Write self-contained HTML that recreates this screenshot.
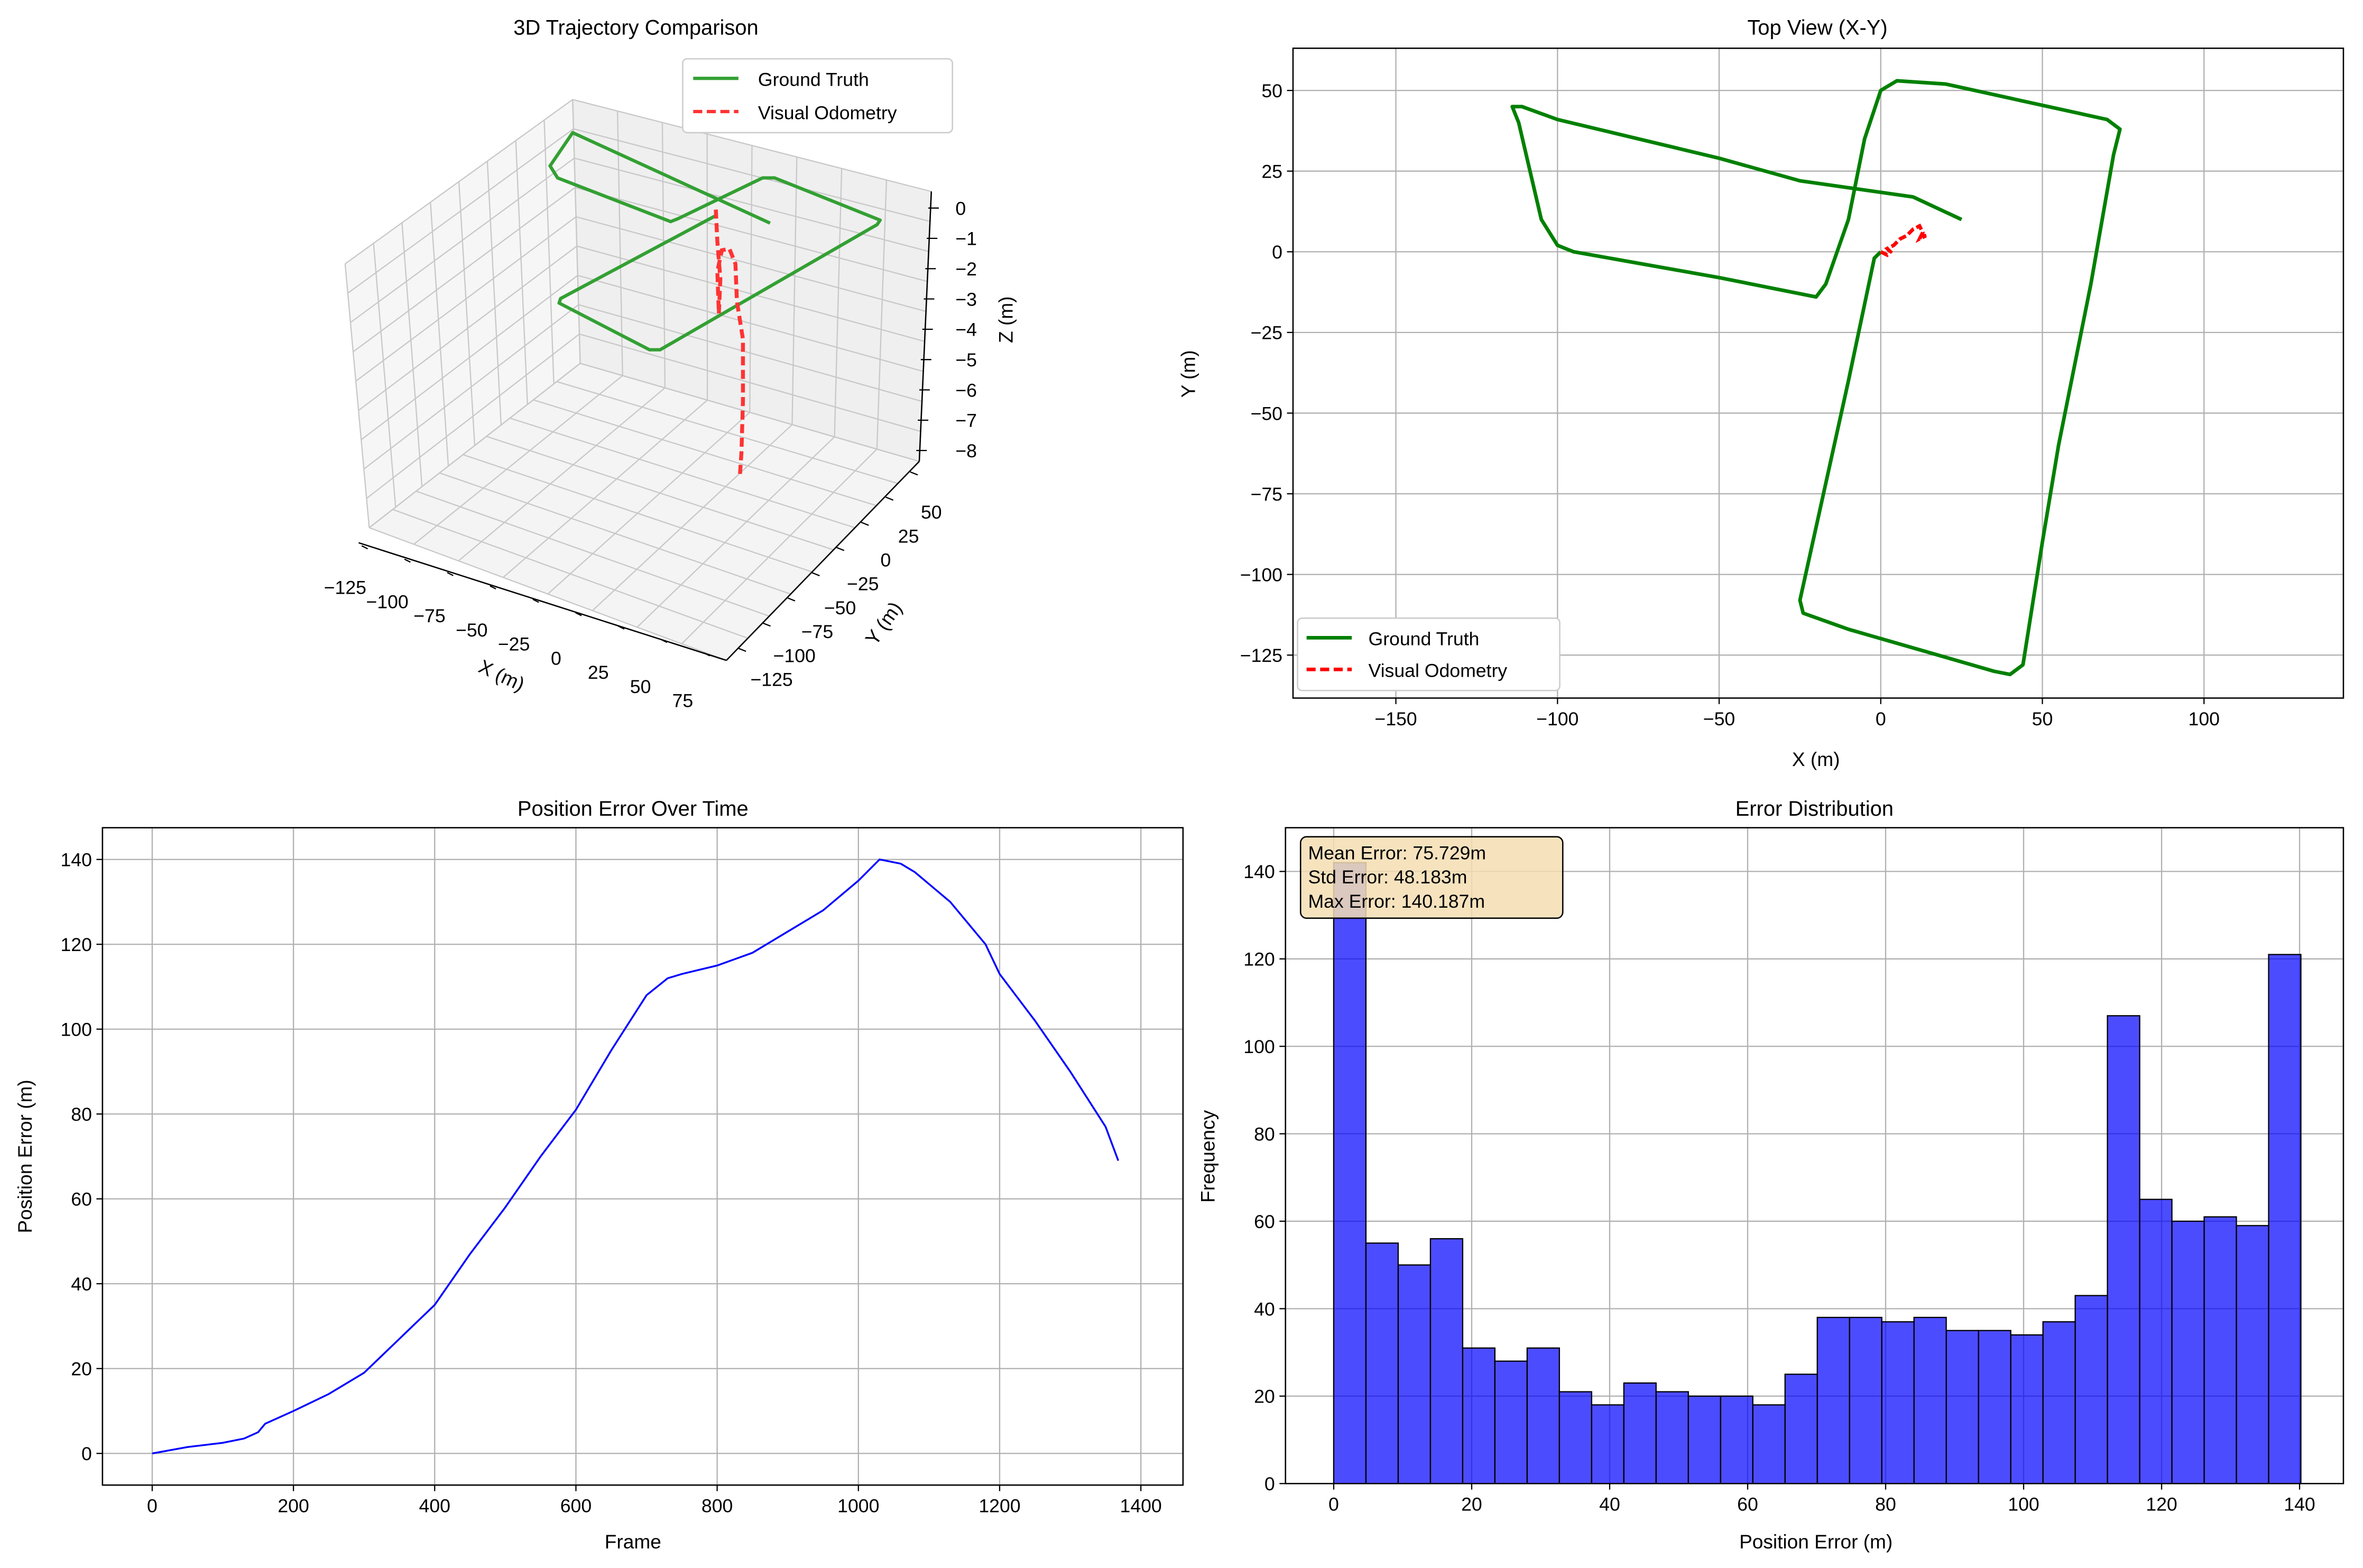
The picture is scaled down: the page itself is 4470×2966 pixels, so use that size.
<!DOCTYPE html>
<html><head><meta charset="utf-8"><style>html,body{margin:0;padding:0;background:#fff}svg{display:block}text{font-family:"Liberation Sans",sans-serif;fill:#000}</style></head>
<body>
<svg id="fig" xmlns="http://www.w3.org/2000/svg" width="4470" height="2966" viewBox="0 0 1568 1040" preserveAspectRatio="none">
<rect width="1568" height="1040" fill="#fff"/>
<g id="p3d"></g>
<g id="ptop"></g>
<g id="perr"></g>
<g id="phist"></g>
</svg>
<script>
// ---------- data ----------
const gtTopX = [25,10,-25,-50,-100,-111,-114,-112,-105,-100,-95,-50,-20,-17,-10,-5,0,5,20,70,74,72,65,55,50,44,40,35,-10,-24,-25,-10,-2,0];
const gtTopY = [10,17,22,29,41,45,45,40,10,2,0,-8,-14,-10,10,35,50,53,52,41,38,30,-10,-60,-90,-128,-131,-130,-117,-112,-108,-40,-2,0];
const voTopX = [0,2,3,2,4,6,8,10,12,13,12,14,13];
const voTopY = [0,-1,0,1,2,4,5,7,8,6,4,5,5];
const frames = [0,50,100,130,150,160,200,250,300,350,400,450,500,550,600,650,700,730,750,800,850,900,950,1000,1030,1060,1080,1130,1180,1200,1250,1300,1350,1368];
const errVals = [0,1.5,2.5,3.5,5,7,10,14,19,27,35,47,58,70,81,95,108,112,113,115,118,123,128,135,140,139,137,130,120,113,102,90,77,69];
const histCounts = [142,55,50,56,31,28,31,21,18,23,21,20,20,18,25,38,38,37,38,35,35,34,37,43,107,65,60,61,59,121];
const histMax = 140.187;
const topXTicks = [-150,-100,-50,0,50,100];
const topYTicks = [50,25,0,-25,-50,-75,-100,-125];
const errXTicks = [0,200,400,600,800,1000,1200,1400];
const errYTicks = [0,20,40,60,80,100,120,140];
const histXTicks = [0,20,40,60,80,100,120,140];
const histYTicks = [0,20,40,60,80,100,120,140];
const gt3dX = [511,380,365,370,445,450,506,514,584,582,438,431,371,372,475];
const gt3dY = [148,88,110,118,147,145,118,118,146,149,232,232,201,198,143];
const vo3dX = [475,476,478,477,476,479,484,488,489,493,493,492,491];
const vo3dY = [139,160,185,208,180,166,165,175,200,225,266,300,315];
const x3dLabels = ["\u2212125","\u2212100","\u221275","\u221250","\u221225","0","25","50","75"];
const y3dLabels = ["50","25","0","\u221225","\u221250","\u221275","\u2212100","\u2212125"];
const z3dLabels = ["0","\u22121","\u22122","\u22123","\u22124","\u22125","\u22126","\u22127","\u22128"];

const NS="http://www.w3.org/2000/svg";
function mk(parent,tag,attrs,txt){const e=document.createElementNS(NS,tag);for(const k in attrs)e.setAttribute(k,attrs[k]);if(txt!==undefined)e.textContent=txt;parent.appendChild(e);return e;}
function fmt(v){return v<0?"\u2212"+(-v):""+v;}

function axesFrame(g,x0,y0,x1,y1,xs,ys,xt,yt,name){
  for(const t of xt){const px=xs(t);
    const l=mk(g,'line',{x1:px,x2:px,y1:y0,y2:y1,stroke:'#b0b0b0','stroke-width':0.8});
    
    
    mk(g,'line',{x1:px,x2:px,y1:y1,y2:y1+4,stroke:'#000','stroke-width':0.8});
    const tx=mk(g,'text',{x:px,y:y1+18,'font-size':12.5,'text-anchor':'middle'},fmt(t));
    
    }
  for(const t of yt){const py=ys(t);
    const l=mk(g,'line',{x1:x0,x2:x1,y1:py,y2:py,stroke:'#b0b0b0','stroke-width':0.8});
    
    
    mk(g,'line',{x1:x0-4,x2:x0,y1:py,y2:py,stroke:'#000','stroke-width':0.8});
    const tx=mk(g,'text',{x:x0-7,y:py+4.5,'font-size':12.5,'text-anchor':'end'},fmt(t));
    
    }
}
function frameRect(g,x0,y0,x1,y1){const r=mk(g,'rect',{x:x0,y:y0,width:x1-x0,height:y1-y0,fill:'none',stroke:'#000','stroke-width':0.9});
  
  }
function label(g,x,y,s,name,rot,size){const t=mk(g,'text',{x:x,y:y,'font-size':size||13,'text-anchor':'middle'},s);
  if(rot)t.setAttribute('transform','rotate('+rot+' '+x+' '+y+')');
  
  return t;}

// ---------- 3D panel ----------
(function(){
 const g=document.getElementById('p3d');
 label(g,422,23,'3D Trajectory Comparison','title-3d',0,14);
 const Lw=[[229,175],[380,66],[385,241],[245,350]];
 const Rw=[[380,66],[618,127],[610,306],[385,241]];
 const Fl=[[245,350],[385,241],[610,306],[482,438]];
 function poly(q,fill,name){const p=mk(g,'polygon',{points:q.map(a=>a.join(',')).join(' '),fill:fill,stroke:'none'});
   
   }
 poly(Lw,'#f6f6f6','left-pane');poly(Rw,'#efefef','back-pane');poly(Fl,'#f4f4f4','floor-pane');
 const lerp=(a,b,t)=>[a[0]+(b[0]-a[0])*t,a[1]+(b[1]-a[1])*t];
 function grid(q,nu,nv){for(let i=0;i<=nu;i++){const t=i/nu;const a=lerp(q[0],q[1],t),b=lerp(q[3],q[2],t);
     mk(g,'line',{x1:a[0],y1:a[1],x2:b[0],y2:b[1],stroke:'#c8c8c8','stroke-width':0.8});}
   for(let j=0;j<=nv;j++){const t=j/nv;const a=lerp(q[0],q[3],t),b=lerp(q[1],q[2],t);
     mk(g,'line',{x1:a[0],y1:a[1],x2:b[0],y2:b[1],stroke:'#c8c8c8','stroke-width':0.8});}}
 grid(Lw,8,9);grid(Rw,8,9);grid(Fl,9,8);
 mk(g,'line',{x1:238,y1:360,x2:482,y2:438,stroke:'#000','stroke-width':0.9});
 mk(g,'line',{x1:482,y1:438,x2:610,y2:306,stroke:'#000','stroke-width':0.9});
 mk(g,'line',{x1:618,y1:127,x2:610,y2:306,stroke:'#000','stroke-width':0.9});
 x3dLabels.forEach((s,i)=>{const t=i/8;const px=240+(467-240)*t,py=362+(433-362)*t;
   mk(g,'line',{x1:px,y1:py,x2:px+4,y2:py+2,stroke:'#000','stroke-width':0.8});
   const tx=mk(g,'text',{x:229+(453-229)*t,y:394+(469-394)*t,'font-size':12.5,'text-anchor':'middle'},s);
   
   });
 y3dLabels.forEach((s,i)=>{const t=i/7;const px=604+(490-604)*t,py=313+(430-313)*t;
   mk(g,'line',{x1:px,y1:py,x2:px+5,y2:py+2,stroke:'#000','stroke-width':0.8});
   const tx=mk(g,'text',{x:618+(512-618)*t,y:344+(455-344)*t,'font-size':12.5,'text-anchor':'middle'},s);
   
   });
 z3dLabels.forEach((s,i)=>{const py=138+i*20.1;const ax=618-i;
   mk(g,'line',{x1:ax-2,y1:py,x2:ax+5,y2:py,stroke:'#000','stroke-width':0.8});
   const tx=mk(g,'text',{x:634,y:py+4.5,'font-size':12.5},s);
   
   });
 label(g,331,452,'X (m)','x3d-axis-title',25);
 label(g,590,416,'Y (m)','y3d-axis-title',-55);
 label(g,672,212,'Z (m)','z3d-axis-title',-90);
 const gl=mk(g,'polyline',{points:gt3dX.map((x,i)=>x+','+gt3dY[i]).join(' '),fill:'none',stroke:'#33a033','stroke-width':2.2,'stroke-linejoin':'round'});
 
 
 const vl=mk(g,'polyline',{points:vo3dX.map((x,i)=>x+','+vo3dY[i]).join(' '),fill:'none',stroke:'#ff3333','stroke-width':2.6,'stroke-dasharray':'6 3'});
 
 
 const lg=mk(g,'g',{});
 
 
 mk(lg,'rect',{x:453,y:39,width:179,height:49,rx:3,fill:'#fff',stroke:'#ccc','stroke-width':0.9});
 mk(lg,'line',{x1:460,x2:490,y1:52,y2:52,stroke:'#33a033','stroke-width':2.2});
 mk(lg,'line',{x1:460,x2:490,y1:74,y2:74,stroke:'#ff3333','stroke-width':2.2,'stroke-dasharray':'6 3'});
 mk(lg,'text',{x:503,y:57,'font-size':12.5},'Ground Truth');
 mk(lg,'text',{x:503,y:79,'font-size':12.5},'Visual Odometry');
})();

// ---------- Top view ----------
(function(){
 const g=document.getElementById('ptop');
 const x0=858,x1=1555,y0=32,y1=463;
 const xs=v=>1248+v*2.145, ys=v=>167-v*2.14;
 label(g,1206,23,'Top View (X-Y)','title-top-view',0,14);
 axesFrame(g,x0,y0,x1,y1,xs,ys,topXTicks,topYTicks,'top');
 const gl=mk(g,'polyline',{points:gtTopX.map((x,i)=>xs(x)+','+ys(gtTopY[i])).join(' '),fill:'none',stroke:'#008000','stroke-width':2.4,'stroke-linejoin':'round'});
 
 
 const vl=mk(g,'polyline',{points:voTopX.map((x,i)=>xs(x)+','+ys(voTopY[i])).join(' '),fill:'none',stroke:'#ff0000','stroke-width':2.4,'stroke-dasharray':'5 2'});
 
 
 frameRect(g,x0,y0,x1,y1);
 label(g,1205,508,'X (m)','top-x-axis-title');
 label(g,793,248,'Y (m)','top-y-axis-title',-90);
 const lg=mk(g,'g',{});
 
 
 mk(lg,'rect',{x:861,y:410,width:174,height:48,rx:3,fill:'#fff',stroke:'#ccc','stroke-width':0.9});
 mk(lg,'line',{x1:867,x2:897,y1:423,y2:423,stroke:'#008000','stroke-width':2.4});
 mk(lg,'line',{x1:867,x2:897,y1:444,y2:444,stroke:'#ff0000','stroke-width':2.4,'stroke-dasharray':'6 3'});
 mk(lg,'text',{x:908,y:428,'font-size':12.5},'Ground Truth');
 mk(lg,'text',{x:908,y:449,'font-size':12.5},'Visual Odometry');
})();

// ---------- Error over time ----------
(function(){
 const g=document.getElementById('perr');
 const x0=68,x1=785,y0=549,y1=985;
 const xs=v=>101+v*0.4686, ys=v=>964-v*2.814;
 label(g,420,541,'Position Error Over Time','title-error-time',0,14);
 axesFrame(g,x0,y0,x1,y1,xs,ys,errXTicks,errYTicks,'err');
 const l=mk(g,'polyline',{points:frames.map((f,i)=>xs(f)+','+ys(errVals[i])).join(' '),fill:'none',stroke:'#0000ff','stroke-width':1.2});
 
 
 frameRect(g,x0,y0,x1,y1);
 label(g,420,1027,'Frame','err-x-axis-title');
 label(g,21,767,'Position Error (m)','err-y-axis-title',-90);
})();

// ---------- Histogram ----------
(function(){
 const g=document.getElementById('phist');
 const x0=853,x1=1555,y0=549,y1=984;
 const xs=v=>885+v*4.578, ys=v=>984-v*2.9;
 label(g,1204,541,'Error Distribution','title-error-distribution',0,14);
 axesFrame(g,x0,y0,x1,y1,xs,ys,histXTicks,histYTicks,'hist');
 const w=histMax/histCounts.length;
 histCounts.forEach((c,i)=>{const r=mk(g,'rect',{x:xs(i*w),y:ys(c),width:xs((i+1)*w)-xs(i*w),height:ys(0)-ys(c),fill:'rgba(0,0,255,0.7)',stroke:'#000','stroke-width':0.8});
   
   });
 frameRect(g,x0,y0,x1,y1);
 label(g,1205,1027,'Position Error (m)','hist-x-axis-title');
 label(g,806,767,'Frequency','hist-y-axis-title',-90);
 const sb=mk(g,'g',{});
 
 
 mk(sb,'rect',{x:863,y:555,width:174,height:54,rx:4,fill:'rgba(245,222,179,0.85)',stroke:'#000','stroke-width':0.9});
 mk(sb,'text',{x:868,y:570,'font-size':12.5},'Mean Error: 75.729m');
 mk(sb,'text',{x:868,y:586,'font-size':12.5},'Std Error: 48.183m');
 mk(sb,'text',{x:868,y:602,'font-size':12.5},'Max Error: 140.187m');
})();
</script>
</body></html>
